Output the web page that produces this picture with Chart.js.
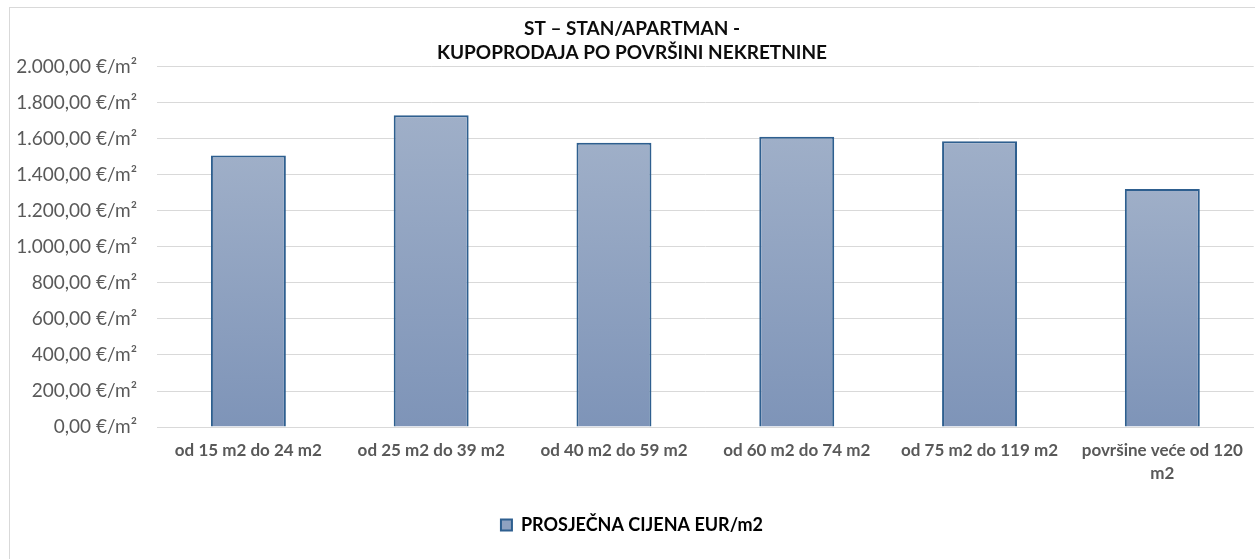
<!DOCTYPE html>
<html>
<head>
<meta charset="utf-8">
<script src="https://cdn.jsdelivr.net/npm/chart.js@4/dist/chart.umd.min.js"></script>
<style>
  html, body { margin: 0; padding: 0; background: #fff; }
  #wrap { width: 1255px; height: 559px; }
</style>
</head>
<body>
<div id="wrap"><canvas id="areaChart"></canvas></div>
<script>
const categories = [
    'od 15 m2 do 24 m2',
    'od 25 m2 do 39 m2',
    'od 40 m2 do 59 m2',
    'od 60 m2 do 74 m2',
    'od 75 m2 do 119 m2',
    ['površine veće od 120', 'm2']
];
const avgPrice = [1507, 1730, 1577, 1610, 1585, 1320];
const seriesName = 'PROSJEČNA CIJENA EUR/m2';
const titleLines = ['ST – STAN/APARTMAN -', 'KUPOPRODAJA PO POVRŠINI NEKRETNINE'];

const FONT = 'Lato, "Open Sans", sans-serif';

function formatEur(v) {
    const parts = v.toFixed(2).split('.');
    const whole = parts[0].replace(/\B(?=(\d{3})+(?!\d))/g, '.');
    return whole + ',' + parts[1] + ' €/m²';
}

// chart frame (light border like the spreadsheet chart area)
const framePlugin = {
    id: 'frame',
    beforeDraw(chart) {
        const ctx = chart.ctx;
        ctx.save();
        ctx.strokeStyle = '#d9d9d9';
        ctx.lineWidth = 1;
        ctx.strokeRect(9.5, 7.5, chart.width + 20, chart.height + 20);
        ctx.restore();
    }
};

// vertical gradient per bar, from its top to its base
const barGradient = {
    id: 'barGradient',
    beforeDatasetsDraw(chart) {
        const ctx = chart.ctx;
        chart.getDatasetMeta(0).data.forEach(el => {
            const g = ctx.createLinearGradient(0, el.y, 0, el.base);
            g.addColorStop(0, '#9fafc8');
            g.addColorStop(1, '#7e94b8');
            el.options = Object.assign({}, el.options, { backgroundColor: g });
        });
    }
};

const ctx = document.getElementById('areaChart').getContext('2d');
new Chart(ctx, {
    type: 'bar',
    data: {
        labels: categories,
        datasets: [{
            label: seriesName,
            data: avgPrice,
            backgroundColor: '#8fa2c1',
            borderColor: '#2e5f8f',
            borderWidth: 2,
            borderSkipped: 'bottom',
            barPercentage: 0.41,
            categoryPercentage: 1
        }]
    },
    options: {
        responsive: true,
        maintainAspectRatio: false,
        animation: false,
        layout: {
            padding: { left: 10, right: 1, top: 9, bottom: 15 }
        },
        scales: {
            y: {
                min: 0,
                max: 2000,
                ticks: {
                    stepSize: 200,
                    padding: 20,
                    color: '#595959',
                    font: { family: FONT, size: 19 },
                    callback: v => formatEur(v)
                },
                grid: { color: '#d9d9d9', lineWidth: 1, drawTicks: false },
                border: { display: false },
                afterFit(scale) { scale.width = 147; }
            },
            x: {
                ticks: {
                    padding: 12,
                    color: '#595959',
                    maxRotation: 0,
                    font: { family: FONT, size: 17, weight: 'bold', lineHeight: 1.35 }
                },
                grid: { display: false, drawTicks: false },
                border: { display: true, color: '#d9d9d9', width: 1 }
            }
        },
        plugins: {
            title: {
                display: true,
                text: titleLines,
                color: '#0d0d0d',
                font: { family: FONT, size: 19, weight: 'bold', lineHeight: 1.25 },
                padding: { top: 8, bottom: 2 }
            },
            legend: {
                position: 'bottom',
                labels: {
                    color: '#595959',
                    boxWidth: 11,
                    boxHeight: 11,
                    padding: 19,
                    font: { family: FONT, size: 18, weight: 'bold' },
                    generateLabels(chart) {
                        const ds = chart.data.datasets[0];
                        return [{
                            text: ds.label,
                            fillStyle: '#8fa2c1',
                            strokeStyle: '#2e5f8f',
                            lineWidth: 2,
                            datasetIndex: 0
                        }];
                    }
                }
            },
            tooltip: { enabled: false }
        }
    },
    plugins: [framePlugin, barGradient]
});
</script>
</body>
</html>
